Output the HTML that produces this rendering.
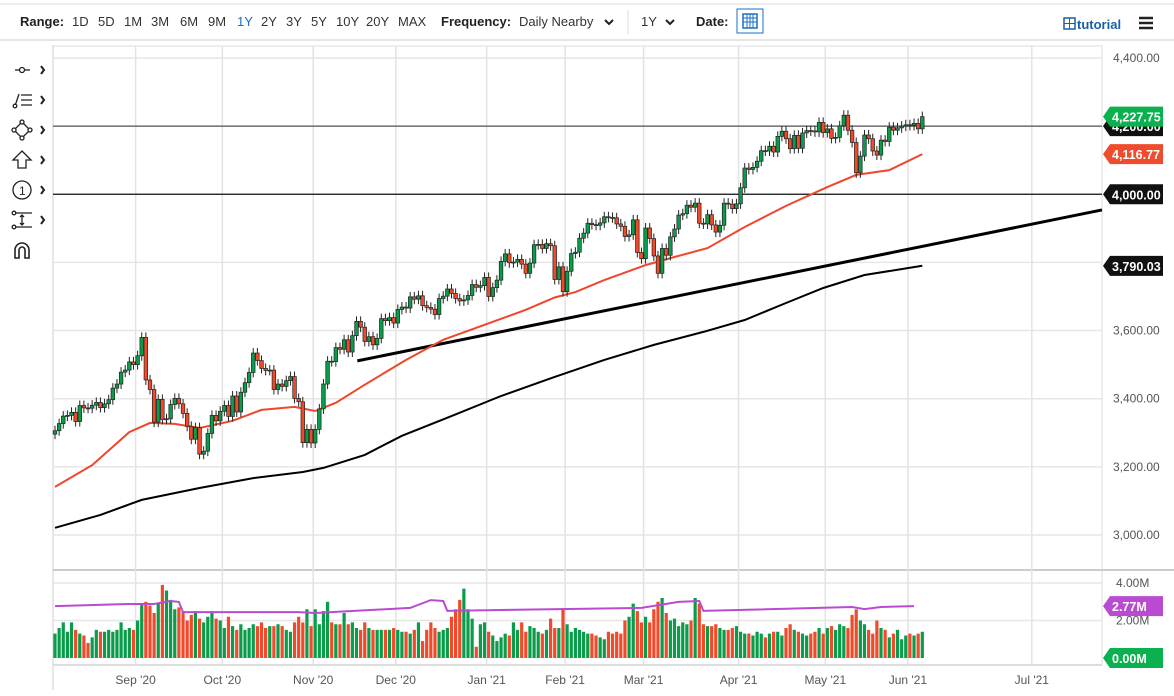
<!DOCTYPE html>
<html><head><meta charset="utf-8"><style>
html,body{margin:0;padding:0;background:#fff;}
svg{display:block;font-family:"Liberation Sans",sans-serif;}
</style></head><body>
<svg id="chart" width="1174" height="696" viewBox="0 0 1174 696">
<g id="toolbar">
<line x1="0" y1="4" x2="1174" y2="4" stroke="#ddd"/>
<line x1="0" y1="40" x2="1174" y2="40" stroke="#ddd" stroke-width="1.5"/>
<text x="20" y="26" font-size="13" font-weight="bold" fill="#222">Range:</text>
<g font-size="13" fill="#333">
<text x="72" y="26">1D</text>
<text x="98" y="26">5D</text>
<text x="124" y="26">1M</text>
<text x="151" y="26">3M</text>
<text x="180" y="26">6M</text>
<text x="208" y="26">9M</text>
<text x="237" y="26" fill="#1a6fc4">1Y</text>
<text x="261" y="26">2Y</text>
<text x="286" y="26">3Y</text>
<text x="311" y="26">5Y</text>
<text x="336" y="26">10Y</text>
<text x="366" y="26">20Y</text>
<text x="398" y="26">MAX</text>
</g>
<text x="441" y="26" font-size="13" font-weight="bold" fill="#222">Frequency:</text>
<text x="519" y="26" font-size="13" fill="#333">Daily Nearby</text>
<path d="M605 20 l4 4 l4 -4" stroke="#222" stroke-width="2" fill="none"/>
<line x1="628" y1="10" x2="628" y2="34" stroke="#ddd"/>
<text x="641" y="26" font-size="13" fill="#333">1Y</text>
<path d="M666 20 l4 4 l4 -4" stroke="#222" stroke-width="2" fill="none"/>
<text x="696" y="26" font-size="13" font-weight="bold" fill="#222">Date:</text>
<g>
<rect x="737" y="9" width="26" height="24" fill="#fff" stroke="#1a6fc4"/>
<rect x="743" y="14" width="14" height="14" fill="none" stroke="#1a6fc4" stroke-width="1.5"/>
<path d="M743 18 h14 M743 22 h14 M747 14 v14 M750 14 v14 M753 14 v14" stroke="#1a6fc4" stroke-width="1"/>
</g>
<g>
<rect x="1064" y="18" width="11" height="11" fill="none" stroke="#1a5fa8" stroke-width="1.5"/>
<path d="M1064 23.5 h11 M1069.5 18 v11" stroke="#1a5fa8"/>
<text x="1077" y="29" font-size="13" font-weight="bold" fill="#1a5fa8">tutorial</text>
</g>
<path d="M1139 18 h14 M1139 23 h14 M1139 28 h14" stroke="#222" stroke-width="2.5"/>
</g>
<g id="lefttools" stroke="#222" fill="none" stroke-width="1.3">
<g><path d="M15 70 h15"/><circle cx="22" cy="70" r="2.5" fill="#fff"/><path d="M41 66 l3 4 l-3 4" stroke-width="2"/></g>
<g><path d="M15 106 l4 -12 M21 95 h11 M21 100 h11 M21 105 h11"/><circle cx="15" cy="106" r="1.8" fill="#fff"/><path d="M41 96 l3 4 l-3 4" stroke-width="2"/></g>
<g><path d="M22 122 l8 8 l-8 8 l-8 -8 z"/><circle cx="22" cy="122" r="2" fill="#fff"/><circle cx="30" cy="130" r="2" fill="#fff"/><circle cx="22" cy="138" r="2" fill="#fff"/><circle cx="14" cy="130" r="2" fill="#fff"/><path d="M41 126 l3 4 l-3 4" stroke-width="2"/></g>
<g><path d="M22 151 l9 9 h-5 v8 h-8 v-8 h-5 z"/><path d="M41 156 l3 4 l-3 4" stroke-width="2"/></g>
<g><circle cx="22" cy="190" r="9"/><text x="19" y="195" font-size="12" fill="#222" stroke="none">1</text><path d="M41 186 l3 4 l-3 4" stroke-width="2"/></g>
<g><path d="M14 213 h18 M14 227 h18 M22 215 v10 M20 217 l2 -2 l2 2 M20 223 l2 2 l2 -2"/><circle cx="14" cy="213" r="1.8" fill="#fff"/><circle cx="14" cy="227" r="1.8" fill="#fff"/><path d="M41 216 l3 4 l-3 4" stroke-width="2"/></g>
<g><path d="M15 258 v-8 a7 7 0 0 1 14 0 v8 h-4 v-8 a3 3 0 0 0 -6 0 v8 z" stroke-width="1.6"/></g>
</g>
<g id="grid"></g>
<g id="vol"></g>
<g id="price"></g>
<g id="axes"></g>
</svg>
<script>
// ---- data ----
const monthLabels = ["Aug","Sep '20","Oct '20","Nov '20","Dec '20","Jan '21","Feb '21","Mar '21","Apr '21","May '21","Jun '21"];
const closesAug = [3306,3327,3349,3351,3360,3333,3380,3373,3372,3381,3389,3374,3385,3397,3431,3443,3478,3484,3508,3500];
const closesSep = [3526,3580,3455,3427,3331,3398,3339,3341,3383,3401,3385,3357,3319,3281,3315,3237,3246,3298,3351,3335,3363];
const closesOct = [3380,3348,3408,3361,3419,3447,3477,3534,3512,3489,3483,3484,3427,3443,3436,3453,3465,3401,3391,3271,3310,3270];
const closesNov = [3310,3370,3443,3510,3509,3550,3545,3573,3537,3585,3627,3610,3568,3582,3558,3577,3635,3629,3638,3622];
const closesDec = [3662,3669,3666,3699,3692,3702,3673,3668,3663,3647,3694,3701,3722,3709,3694,3687,3690,3703,3735,3727,3732,3756];
const closesJan = [3700,3726,3748,3803,3825,3799,3801,3809,3795,3768,3798,3852,3853,3841,3855,3849,3750,3787,3714];
const closesFeb = [3774,3826,3830,3871,3886,3915,3911,3909,3916,3934,3932,3931,3913,3906,3876,3881,3925,3829,3811];
const closesMar = [3901,3870,3819,3768,3841,3821,3875,3898,3939,3943,3968,3962,3974,3915,3913,3940,3910,3889,3909,3974,3971,3958,3972];
const closesApr = [4019,4077,4073,4079,4097,4128,4127,4141,4124,4170,4185,4163,4134,4173,4135,4180,4187,4186,4183,4211,4181];
const closesMay = [4192,4164,4167,4201,4232,4188,4152,4063,4112,4174,4163,4127,4115,4159,4155,4197,4188,4195,4200,4204];
const closesJun = [4202,4208,4192,4228];
const volAug = [1.3,1.6,1.9,1.4,1.9,1.5,1.3,1.2,0.8,1.1,1.5,1.4,1.4,1.5,1.4,1.5,1.9,1.5,1.6,1.5];
const volSep = [2.0,2.9,3.0,2.8,2.4,2.9,3.9,3.6,3.1,2.6,2.7,2.5,2.0,2.3,2.5,2.1,1.9,2.2,2.4,2.1,2.0];
const volOct = [1.6,2.2,1.7,1.5,1.8,1.5,1.6,1.8,1.7,1.9,1.6,1.7,1.7,1.8,1.7,1.5,1.4,1.9,2.2,1.9,2.6,1.7];
const volNov = [2.6,1.8,2.5,3.0,1.9,1.8,1.8,2.4,1.8,1.9,1.6,1.5,1.9,1.6,1.5,1.5,1.5,1.5,1.5,1.6];
const volDec = [1.5,1.4,1.4,1.3,1.5,1.9,0.9,1.5,1.9,1.6,1.4,1.5,1.6,2.2,2.6,3.1,3.7,2.6,2.1,0.6,1.8,1.9];
const volJan = [1.4,1.2,0.9,1.1,1.3,1.2,1.9,1.5,1.9,1.4,1.7,1.6,1.4,1.3,1.5,2.1,1.6,1.6,2.6];
const volFeb = [1.8,1.4,1.6,1.5,1.4,1.3,1.3,1.2,1.1,1.0,1.4,1.3,1.4,1.3,2.0,2.2,2.9,2.5,1.9];
const volMar = [2.2,1.9,2.6,3.0,3.2,2.4,2.0,2.1,1.7,1.9,1.8,2.0,3.2,2.9,1.8,1.7,1.7,1.8,1.6,1.5,1.5,1.6,1.7];
const volApr = [1.4,1.3,1.3,1.2,1.4,1.3,1.1,1.3,1.4,1.4,1.2,1.6,1.8,1.5,1.4,1.3,1.2,1.3,1.4,1.6,1.3];
const volMay = [1.6,1.7,1.5,1.8,1.7,1.6,2.3,2.6,2.0,1.8,1.5,1.3,2.0,1.6,1.5,1.1,1.3,1.5,1.0,1.2];
const volJun = [1.3,1.2,1.3,1.4];
const sma50Idx = [0,9,18,23,29,35,43,50,58,63,68,75,85,94,104,114,121,126,133,143,150,158,167,177,187,194,202,210];
const sma50Val = [3141,3205,3302,3329,3326,3314,3335,3367,3376,3364,3388,3441,3514,3573,3617,3661,3697,3713,3748,3792,3816,3842,3904,3966,4021,4057,4071,4118];
const sma200Idx = [0,11,21,35,48,60,65,75,84,96,108,121,133,145,157,167,177,186,196,210];
const sma200Val = [3021,3059,3103,3138,3167,3185,3197,3235,3291,3349,3408,3464,3514,3558,3596,3631,3681,3725,3763,3790];
const avgVolIdx = [0,18,24,28,30,31,59,63,86,91,94,95,108,142,151,156,157,193,196,200,208];
const avgVolVal = [2.77,2.88,2.88,3.04,2.99,2.45,2.45,2.40,2.67,3.09,3.04,2.51,2.56,2.67,2.99,3.04,2.51,2.72,2.61,2.72,2.77];
const trendIdx = [73.2, 253.5];
const trendVal = [3511, 3954];
const priceTicks = [4400,4200,4000,3800,3600,3400,3200,3000];
const priceTickText = ["4,400.00","4,200.00","4,000.00","3,800.00","3,600.00","3,400.00","3,200.00","3,000.00"];
const volTicks = [4,2];
const volTickText = ["4.00M","2.00M"];
const hLines = [4200,4000];

// ---- scales ----
const X0=55, DX=4.13;
const xi = i => X0 + i*DX;
const yp = p => 58 + (4400-p)*0.3407;
const yv = v => 658 - v*18.75;
const NS="http://www.w3.org/2000/svg";
function mk(parent,tag,attrs){const e=document.createElementNS(NS,tag);for(const k in attrs)e.setAttribute(k,attrs[k]);parent.appendChild(e);return e;}
const gGrid=document.getElementById('grid'),gVol=document.getElementById('vol'),gPrice=document.getElementById('price'),gAx=document.getElementById('axes');

const closeMonths=[closesAug,closesSep,closesOct,closesNov,closesDec,closesJan,closesFeb,closesMar,closesApr,closesMay,closesJun];
const volMonths=[volAug,volSep,volOct,volNov,volDec,volJan,volFeb,volMar,volApr,volMay,volJun];
const closes=[].concat(...closeMonths), vols=[].concat(...volMonths);
const monthStart=[];let acc=0;closeMonths.forEach(m=>{monthStart.push(acc);acc+=m.length;});

// frames
let r=mk(gGrid,'line',{x1:53,y1:45,x2:53,y2:690,stroke:'#ccc'});

r=mk(gGrid,'line',{x1:1102,y1:45,x2:1102,y2:665,stroke:'#ddd'});

r=mk(gGrid,'line',{x1:53,y1:46,x2:1102,y2:46,stroke:'#ddd'});

r=mk(gGrid,'line',{x1:53,y1:570,x2:1174,y2:570,stroke:'#ccc',"stroke-width":2});

r=mk(gGrid,'line',{x1:53,y1:665,x2:1102,y2:665,stroke:'#ddd',"stroke-width":2});

priceTicks.forEach((p,k)=>{
  const l=mk(gGrid,'line',{x1:53,y1:yp(p),x2:1102,y2:yp(p),stroke:'#e6e6e6',"stroke-width":1.5});
  
  const t=mk(gAx,'text',{x:1113,y:yp(p)+4,"font-size":12,fill:'#555'});t.textContent=priceTickText[k];
  
});
volTicks.forEach((v,k)=>{
  const l=mk(gGrid,'line',{x1:53,y1:yv(v),x2:1102,y2:yv(v),stroke:'#e6e6e6',"stroke-width":1.5});
  
  const t=mk(gAx,'text',{x:1116,y:yv(v)+4,"font-size":12,fill:'#555'});t.textContent=volTickText[k];
  
});
const monthIdx=monthStart.slice(1).concat([monthStart[10]+30]);
const monthText=monthLabels.slice(1).concat(["Jul '21"]);
monthIdx.forEach((i,k)=>{
  const x=xi(i)-2;
  const l=mk(gGrid,'line',{x1:x,y1:46,x2:x,y2:665,stroke:'#e3e3e3',"stroke-width":1.5});
  
  const t=mk(gAx,'text',{x:x,y:684,"font-size":12,fill:'#555',"text-anchor":'middle'});t.textContent=monthText[k];
  
});
// horizontal levels
hLines.forEach((p,k)=>{
  const l=mk(gPrice,'line',{x1:53,y1:yp(p),x2:1102,y2:yp(p),stroke:k==0?'#555':'#111',"stroke-width":1.2});
  
});
// trendline
r=mk(gPrice,'line',{x1:xi(trendIdx[0]),y1:yp(trendVal[0]),x2:xi(trendIdx[1]),y2:yp(trendVal[1]),stroke:'#000',"stroke-width":3});

// MAs
function poly(idx,val,yf){return idx.map((i,k)=>xi(i).toFixed(1)+','+yf(val[k]).toFixed(1)).join(' ');}
r=mk(gPrice,'polyline',{points:poly(sma200Idx,sma200Val,yp),fill:'none',stroke:'#000',"stroke-width":2});

r=mk(gPrice,'polyline',{points:poly(sma50Idx,sma50Val,yp),fill:'none',stroke:'#f0462a',"stroke-width":2});

// candles & volume
const G='#0a9b4b',R='#f04a2a';
closes.forEach((c,i)=>{
  const o=i? closes[i-1] : c-10;
  const up=c>=o, x=xi(i);
  const top=yp(Math.max(o,c)), bot=yp(Math.min(o,c));
  const w=mk(gPrice,'line',{x1:x,y1:top-5,x2:x,y2:bot+5,stroke:'#222',"stroke-width":1});
  
  const b=mk(gPrice,'rect',{x:x-1.8,y:top,width:3.6,height:Math.max(1,bot-top),fill:up?G:R,stroke:'#222',"stroke-width":0.7});
  
  const v=vols[i];
  const vb=mk(gVol,'rect',{x:x-1.6,y:yv(v),width:3.2,height:658-yv(v),fill:up?G:R});
  
});
r=mk(gVol,'polyline',{points:poly(avgVolIdx,avgVolVal,yv),fill:'none',stroke:'#b94bd1',"stroke-width":2});

// tags
function tag(y,color,txt,name){
  const g=mk(gAx,'g',{});
  
  
  mk(g,'path',{d:`M1103 ${y} l7 -10 h53 v20 h-53 z`,fill:color});
  const t=mk(g,'text',{x:1112,y:y+5,"font-size":12.5,"font-weight":'bold',fill:'#fff'});t.textContent=txt;
}
tag(yp(4200),'#111','4,200.00','level-4200-tag');
tag(yp(closes[closes.length-1]),'#0bb04f','4,227.75','last-price-tag');
tag(yp(sma50Val[sma50Val.length-1]),'#ef4b2d','4,116.77','sma-50-tag');
tag(yp(4000),'#111','4,000.00','level-4000-tag');
tag(yp(sma200Val[sma200Val.length-1]),'#111','3,790.03','sma-200-tag');
tag(yv(avgVolVal[avgVolVal.length-1]),'#b94bd1','2.77M','volume-average-tag');
tag(yv(0),'#0bb04f','0.00M','last-volume-tag');
</script>
</body></html>
